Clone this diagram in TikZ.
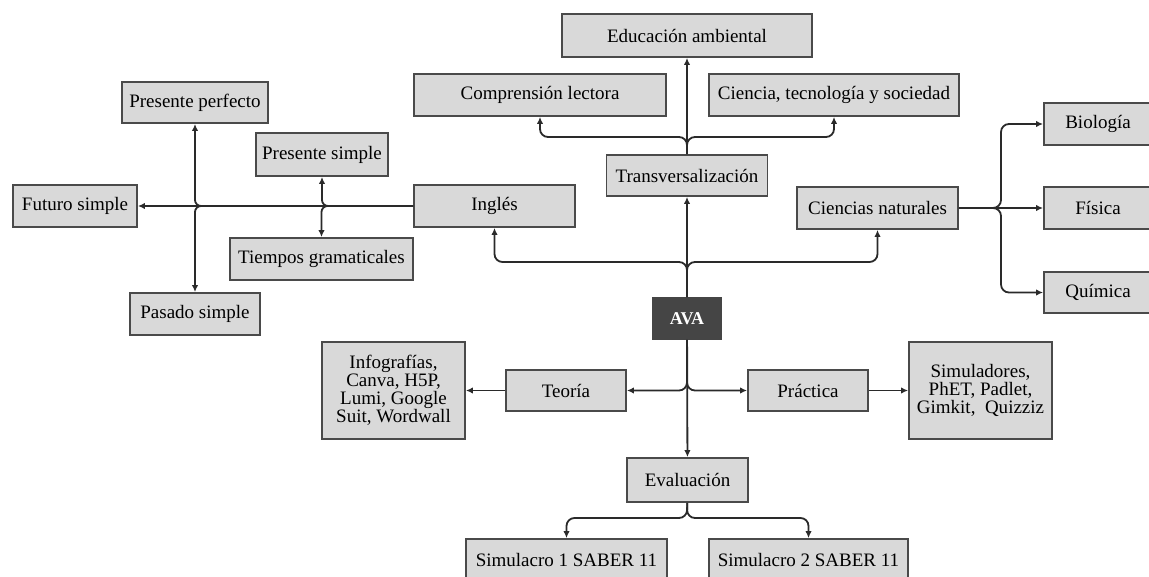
\documentclass[tikz,border=0pt]{standalone}
\usepackage{fontspec}
\setmainfont{Liberation Serif}
\usetikzlibrary{arrows.meta}

\definecolor{boxgray}{HTML}{D9D9D9}
\definecolor{boxline}{HTML}{4A4A4A}
\definecolor{avagray}{HTML}{454545}
\definecolor{linegray}{HTML}{2A2A2A}

\begin{document}
\begin{tikzpicture}[
		x=0.5pt, y=-0.5pt,
		topicnode/.style={
		% The shape:
		rectangle,
		% The size:
		minimum height=21pt,
		inner sep=0pt,
		% The border:
		draw=boxline,
		line width=0.9pt,
		% The filling:
		fill=boxgray,
		% Font
		font=\fontsize{9.5}{9}\selectfont,
		align=center
		},
		avanode/.style={
		topicnode,
		fill=avagray,
		draw=avagray,
		text=white,
		font=\bfseries\fontsize{9}{9}\selectfont
		},
		link/.style={
		-{Latex[length=3.5pt,width=3.2pt]},
		draw=linegray,
		line width=0.9pt,
		rounded corners=4pt
		}
	]
	\useasboundingbox (0,0) rectangle (1149,577);

	% centre and branches up
	\node (AVA)[avanode, minimum width=34pt, minimum height=20.5pt] at (687,318.5) {AVA};
	\node (TRANS)[topicnode, minimum width=80.5pt, minimum height=20.5pt] at (687,175.5) {Transversalización};
	\node (EDU)[topicnode, minimum width=125pt, minimum height=21.5pt] at (687,35.5) {Educación ambiental};
	\node (CL)[topicnode, minimum width=126pt] at (540,95) {Comprensión lectora};
	\node (CTS)[topicnode, minimum width=125pt] at (834,95) {Ciencia, tecnología y sociedad};
	\node (ING)[topicnode, minimum width=80.5pt] at (494.5,206) {Inglés};
	\node (CN)[topicnode, minimum width=80.5pt] at (877.5,208) {Ciencias naturales};

	% Ciencias naturales
	\node (BIO)[topicnode, minimum width=54pt] at (1098,124) {Biología};
	\node (FIS)[topicnode, minimum width=54pt] at (1098,208) {Física};
	\node (QUI)[topicnode, minimum width=54pt, minimum height=20.5pt] at (1098,292.5) {Química};

	% Ingles
	\node (FUT)[topicnode, minimum width=62pt] at (75,206) {Futuro simple};
	\node (PP)[topicnode, minimum width=73pt, minimum height=20.5pt] at (195,102.5) {Presente perfecto};
	\node (PSI)[topicnode, minimum width=66pt, minimum height=21.5pt] at (322,154.5) {Presente simple};
	\node (TG)[topicnode, minimum width=91.5pt] at (321.5,259) {Tiempos gramaticales};
	\node (PAS)[topicnode, minimum width=65pt] at (195,314) {Pasado simple};

	% branches down
	\node (TEO)[topicnode, minimum width=60pt, minimum height=20.5pt] at (566,390.5) {Teoría};
	\node (PRA)[topicnode, minimum width=60pt, minimum height=20.5pt] at (808,390.5) {Práctica};
	\node (INF)[topicnode, minimum width=71.5pt, minimum height=48.5pt] at (393.5,390.5)
		{Infografías,\\Canva, H5P,\\Lumi, Google\\Suit, Wordwall};
	\node (SIMU)[topicnode, minimum width=71.5pt, minimum height=48.5pt] at (980.5,390.5)
		{Simuladores,\\PhET, Padlet,\\Gimkit,\ \ Quizziz};
	\node (EVA)[topicnode, minimum width=60.5pt, minimum height=22pt] at (687.5,480) {Evaluación};
	\node (SIM1)[topicnode, minimum width=100.5pt] at (566.5,560) {Simulacro 1 SABER 11};
	\node (SIM2)[topicnode, minimum width=99.5pt] at (808.5,560) {Simulacro 2 SABER 11};

	% forks
	\coordinate (JT) at (687,137);
	\coordinate (JI) at (687,262);
	\coordinate (JC) at (1001,208);
	\coordinate (JE) at (687,518);

	\draw [link] (AVA) -- (TRANS);
	\draw [link] (TRANS) -- (EDU);
	\draw [link] (TRANS) -- (JT) -| (CL);
	\draw [link] (TRANS) -- (JT) -| (CTS);
	\draw [link] (AVA) -- (JI) -| (ING);
	\draw [link] (AVA) -- (JI) -| (CN);

	\draw [link] (ING) -- (FUT);
	\draw [link, rounded corners=3pt] (ING) -| (PSI);
	\draw [link, rounded corners=3pt] (ING) -| (TG);
	\draw [link, rounded corners=3pt] (ING) -| (PP);
	\draw [link, rounded corners=3pt] (ING) -| (PAS);

	\draw [link] (CN) -- (FIS);
	\draw [link] (CN) -- (JC) |- (BIO);
	\draw [link] (CN) -- (JC) |- (QUI);

	\draw [link] (AVA) |- (TEO);
	\draw [link] (AVA) |- (PRA);
	\draw [link] (TEO) -- (INF);
	\draw [link] (PRA) -- (SIMU);
	\draw [link] (AVA) -- (EVA);
	\draw [link] (EVA) -- (JE) -| (SIM1);
	\draw [link] (EVA) -- (JE) -| (SIM2);
\end{tikzpicture}
\end{document}
